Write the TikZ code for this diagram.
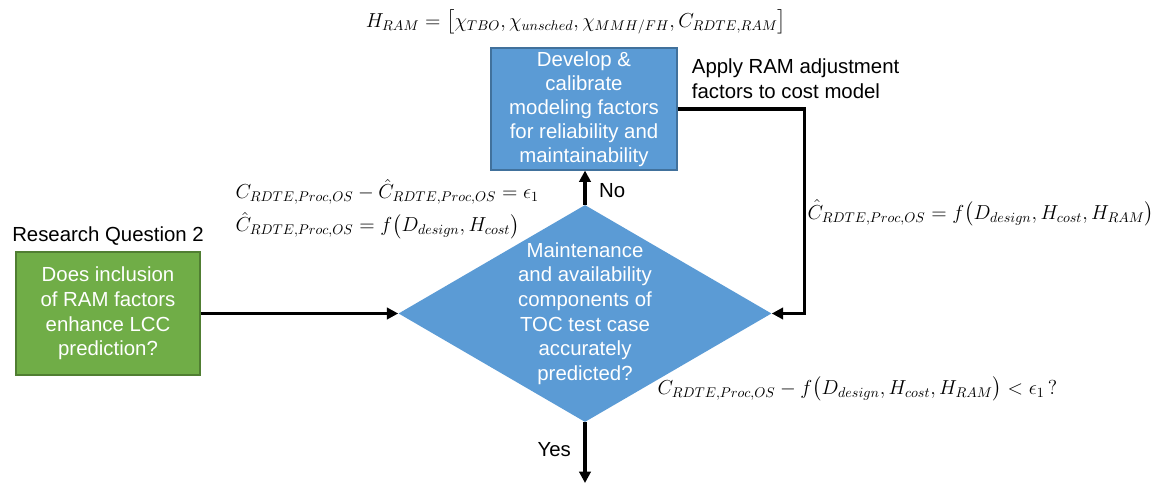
\documentclass[tikz,border=0pt]{standalone}
\usepackage{amsmath}
\usepackage{fontspec}
\setmainfont{Liberation Sans}
\usepackage{tikz}
\usetikzlibrary{arrows.meta, positioning, shapes.geometric}
\definecolor{FlowBlue}{HTML}{5B9BD5}
\definecolor{FlowBlueEdge}{HTML}{41719C}
\definecolor{FlowGreen}{HTML}{70AD47}
\definecolor{FlowGreenEdge}{HTML}{507E32}

\begin{document}
\begin{tikzpicture}[
  bluebox/.style={draw=FlowBlueEdge, fill=FlowBlue, minimum width=4.65cm, minimum height=3.05cm, align=center, text=white, font=\fontsize{14.5}{17}\selectfont, line width=0.8pt, inner sep=0pt},
  greenbox/.style={draw=FlowGreenEdge, fill=FlowGreen, minimum width=4.6cm, minimum height=3.075cm, align=center, text=white, font=\fontsize{14.5}{17.5}\selectfont, line width=0.8pt, inner sep=0pt},
  decision/.style={diamond, fill=FlowBlue, minimum width=9.325cm, minimum height=5.425cm, inner sep=0pt},
  plain/.style={align=center, font=\fontsize{14.5}{17.5}\selectfont},
  eqn/.style={align=left, font=\fontsize{14}{23.5}\selectfont, inner sep=1pt},
  flow/.style={-{Triangle[length=8pt, width=8pt]}, line width=2.2pt}
]
\useasboundingbox (0,0) rectangle (29.125,12.075);

\node[decision] (toc) at (14.625,4.2375) {};
\node[plain, text=white] (toctext) at (toc.center) {Maintenance\\and availability\\components of\\TOC test case\\accurately\\predicted?};
\node[bluebox] (dev) at (14.6,9.35) {Develop \&\\calibrate\\modeling factors\\for reliability and\\maintainability};
\node[greenbox] (rq) at (2.7,4.2375) {Does inclusion\\of RAM factors\\enhance LCC\\prediction?};
\node[plain, above=0.02cm of rq] (rqtitle) {Research Question 2};
\node[plain, align=left, anchor=west] (apply) at (17.175,10.1) {Apply RAM adjustment\\factors to cost model};

\node[eqn] (hram) at (14.4,11.52) {$H_{RAM}=\big[\chi_{TBO},\chi_{unsched},\chi_{MMH/FH},C_{RDTE,RAM}\big]$};
\node[eqn, anchor=west] (eqleft) at (5.85,6.85) {$C_{RDTE,Proc,OS}-\hat{C}_{RDTE,Proc,OS}=\epsilon_1$\\$\hat{C}_{RDTE,Proc,OS}=f\big(D_{design},H_{cost}\big)$};
\node[eqn, anchor=west] (eqright) at (20.15,6.75) {$\hat{C}_{RDTE,Proc,OS}=f\big(D_{design},H_{cost},H_{RAM}\big)$};
\node[eqn, anchor=west] (eqtest) at (16.4,2.35) {$C_{RDTE,Proc,OS}-f\big(D_{design},H_{cost},H_{RAM}\big)<\epsilon_1\,?$};

\coordinate (out) at (14.625,0);

% connectors
\draw[flow] (rq) -- (toc.west);
\draw[flow] (toc.north) -- node[plain, right=0.2cm, pos=0.4] (no) {No} (dev.south -| toc.north);
\draw[flow] (dev.east) -- ([xshift=3.175cm]dev.east) |- (toc.east);
\draw[flow] (toc.south) -- node[plain, left=0.2cm, pos=0.45] (yes) {Yes} (out);
\end{tikzpicture}
\end{document}
